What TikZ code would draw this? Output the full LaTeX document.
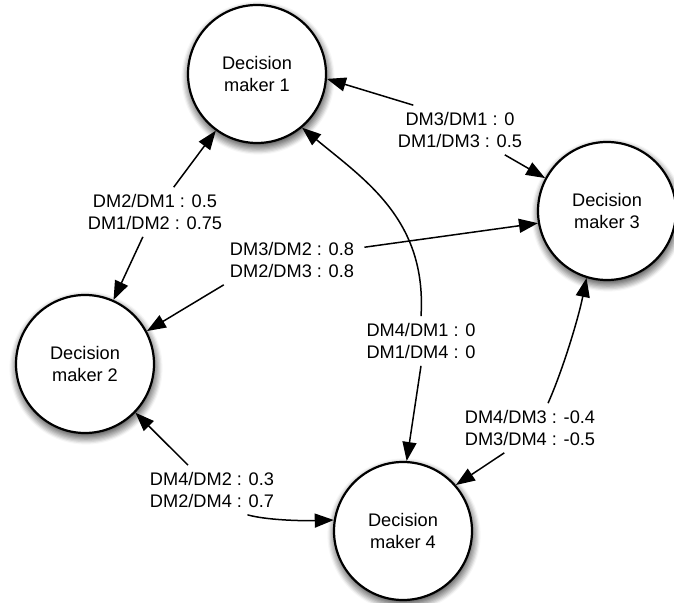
\documentclass[tikz,border=0pt]{standalone}
\usepackage{fontspec}
\setmainfont{Liberation Sans}
\usetikzlibrary{arrows.meta,calc}

\begin{document}
\begin{tikzpicture}[x=0.5pt,y=0.5pt,
    font=\fontsize{9.1pt}{10.75pt}\selectfont,
    maker/.style={circle, draw, line width=1.1pt, fill=white, minimum size=69pt,
      inner sep=0pt, align=center},
    ratio/.style={align=center, inner xsep=5pt, inner ysep=3.5pt},
    link/.style={-{Triangle[length=9.5pt,width=7pt]}, line width=0.75pt}]
  \useasboundingbox (0,0) rectangle (674,-603);

  \coordinate (c1) at (257,-74);
  \coordinate (c2) at (85,-364);
  \coordinate (c3) at (607,-211);
  \coordinate (c4) at (403,-531);

  % soft shadows under the circles
  \foreach \cc in {c1,c2,c3,c4}
    \foreach \k/\tone in {8/3,7/9,6/16,5/22,4/29,3/35,2/42,1/48,0/55}
      \fill[black!\tone] ($(\cc)+(1,-4)$) circle (67+1.2*\k);

  % decision makers
  \node[maker] (dm1) at (c1) {Decision\\maker 1};
  \node[maker] (dm2) at (c2) {Decision\\maker 2};
  \node[maker] (dm3) at (c3) {Decision\\maker 3};
  \node[maker] (dm4) at (c4) {Decision\\maker 4};

  % pairwise ratios
  \node[ratio] (r13) at (460,-130) {DM3/DM1 : 0\\DM1/DM3 : 0.5};
  \node[ratio] (r12) at (155,-212) {DM2/DM1 : 0.5\\DM1/DM2 : 0.75};
  \node[ratio] (r23) at (292,-260) {DM3/DM2 : 0.8\\DM2/DM3 : 0.8};
  \node[ratio] (r14) at (421,-341) {DM4/DM1 : 0\\DM1/DM4 : 0};
  \node[ratio] (r34) at (530,-428) {DM4/DM3 : -0.4\\DM3/DM4 : -0.5};
  \node[ratio] (r24) at (212,-490) {DM4/DM2 : 0.3\\DM2/DM4 : 0.7};

  \draw[link] (r13.152) -- (dm1.-4);
  \draw[link] (r13.-29) -- (dm3.152);
  \draw[link] (r12.53) -- (dm1.-126);
  \draw[link] (r12.-116) -- (dm2.66);
  \draw[link] (r23.10) -- (dm3.190);
  \draw[link] (r23.-160) -- (dm2.28);
  \draw[link] (r14.north) .. controls (427,-220) and (365,-180) .. (dm1.-50);
  \draw[link] (r14.south) -- (dm4.87);
  \draw[link] (r34.54) .. controls (562,-372) and (578,-320) .. (dm3.-107);
  \draw[link] (r34.-136) -- (dm4.41);
  \draw[link] (r24.134) -- (dm2.-44);
  \draw[link] (r24.-35) .. controls (266,-520) and (300,-521) .. (dm4.171);
\end{tikzpicture}
\end{document}
